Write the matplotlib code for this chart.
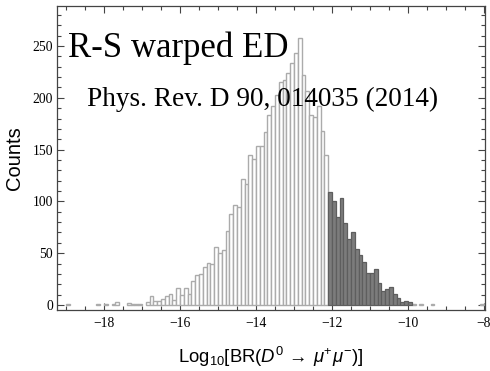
import matplotlib
matplotlib.use("Agg")
import matplotlib.pyplot as plt
from matplotlib.ticker import MultipleLocator

# ---- data (bin left edges, width 0.1) ----
bin_width = 0.1
light_lefts = [-19.0, -18.2, -18.0, -17.8, -17.7, -17.4, -17.3, -17.2, -17.1,
               -16.9, -16.8, -16.7, -16.6, -16.5, -16.4, -16.3, -16.2, -16.1, -16.0,
               -15.9, -15.8, -15.7, -15.6, -15.5, -15.4, -15.3, -15.2, -15.1, -15.0,
               -14.9, -14.8, -14.7, -14.6, -14.5, -14.4, -14.3, -14.2, -14.1, -14.0,
               -13.9, -13.8, -13.7, -13.6, -13.5, -13.4, -13.3, -13.2, -13.1, -13.0,
               -12.9, -12.8, -12.7, -12.6, -12.5, -12.4, -12.3, -12.2,
               -9.9, -9.7, -9.4, -8.1]
light_counts = [1, 1, 1, 1, 3, 2, 1, 1, 1,
                3, 9, 4, 4, 6, 9, 11, 5, 16, 10,
                16, 11, 23, 29, 30, 37, 41, 40, 56, 50,
                53, 71, 88, 97, 95, 122, 117, 145, 141, 153,
                153, 167, 183, 192, 203, 215, 217, 224, 234, 243,
                258, 222, 207, 183, 181, 192, 168, 145,
                1, 1, 1, 1]

dark_lefts = [-12.1, -12.0, -11.9, -11.8, -11.7, -11.6, -11.5, -11.4, -11.3, -11.2,
              -11.1, -11.0, -10.9, -10.8, -10.7, -10.6, -10.5, -10.4, -10.3, -10.2,
              -10.1, -10.0]
dark_counts = [109, 100, 85, 103, 79, 64, 70, 54, 48, 42,
               31, 31, 35, 21, 14, 15, 17, 11, 7, 3,
               4, 3]

x_ticks = [-18, -16, -14, -12, -10, -8]
y_ticks = [0, 50, 100, 150, 200, 250]

title_text = "R-S warped ED"
ref_text = "Phys. Rev. D 90, 014035 (2014)"
x_label = r"$\mathrm{Log}_{10}[\mathrm{BR}(D^0\,\rightarrow\,\mu^{+}\mu^{-})]$"
y_label = "Counts"

# ---- styling ----
plt.rcParams['mathtext.fontset'] = 'custom'
plt.rcParams['mathtext.rm'] = 'Liberation Sans'
plt.rcParams['mathtext.it'] = 'Liberation Sans:italic'
plt.rcParams['mathtext.bf'] = 'Liberation Sans:bold'

fig = plt.figure(figsize=(4.9, 3.71), dpi=100)
ax = fig.add_axes([57/490, 61/371, 428/490, 304/371])

ax.bar(light_lefts, light_counts, width=bin_width, align='edge',
       facecolor='white', edgecolor='#ababab', linewidth=1.0, zorder=2)
ax.bar(dark_lefts, dark_counts, width=bin_width, align='edge',
       facecolor='#7c7c7c', edgecolor='#5e5e5e', linewidth=0.9, zorder=3)

ax.set_xlim(-19.24, -7.97)
ax.set_ylim(-4.8, 288.6)

ax.set_xticks(x_ticks)
ax.set_xticklabels([f"\u2212{abs(v)}" for v in x_ticks])
ax.set_yticks(y_ticks)
ax.xaxis.set_minor_locator(MultipleLocator(0.5))
ax.yaxis.set_minor_locator(MultipleLocator(10))
ax.tick_params(which='both', direction='in', top=True, right=True,
               color='#444444', width=0.8)
ax.tick_params(which='major', length=5, labelsize=9.8, pad=3)
ax.tick_params(which='minor', length=2.8)
ax.tick_params(axis='x', which='major', pad=5)
for lab in ax.get_xticklabels() + ax.get_yticklabels():
    lab.set_fontfamily('Liberation Serif')

for sp in ax.spines.values():
    sp.set_color('#444444')
    sp.set_linewidth(0.9)

ax.set_xlabel(x_label, fontsize=13.3, labelpad=11)
ax.set_ylabel(y_label, fontsize=14.5, family='Liberation Sans', labelpad=6)

ax.text(0.0257, 0.832, title_text, transform=ax.transAxes, ha='left',
        va='baseline', fontsize=25, family='Liberation Serif', zorder=5)
ax.text(0.070, 0.671, ref_text, transform=ax.transAxes, ha='left',
        va='baseline', fontsize=19.6, family='Liberation Serif', zorder=5)

fig.savefig("out.png", dpi=100)
